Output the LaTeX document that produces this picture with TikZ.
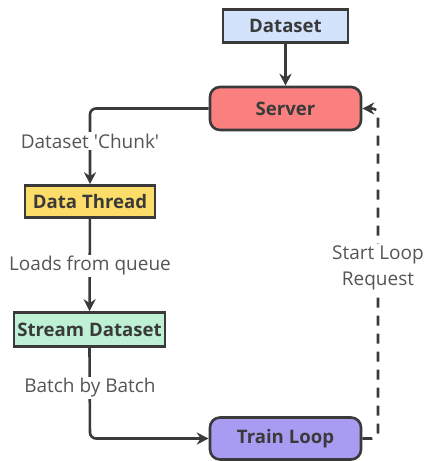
\documentclass[tikz,border=0pt]{standalone}
\usepackage{fontspec}
\setmainfont{Open Sans}[Ligatures=TeXOff]
\usetikzlibrary{arrows.meta}
\definecolor{ln}{HTML}{3A3A3A}
\definecolor{txt}{HTML}{555555}
\definecolor{cblue}{HTML}{D3E3FC}
\definecolor{cred}{HTML}{FA8080}
\definecolor{cyel}{HTML}{FDDD6A}
\definecolor{cgreen}{HTML}{BDF0D4}
\definecolor{cpurp}{HTML}{A89CF2}
\tikzset{
  box/.style={draw=ln, line width=2.6pt, font=\bfseries\fontsize{18.6}{22}\selectfont, text=ln, inner sep=0pt},
  rbox/.style={box, rounded corners=10pt},
  conn/.style={draw=ln, line width=2.6pt, -{Stealth[length=12pt,width=12pt]}},
  lbl/.style={font=\fontsize{19}{26}\selectfont, text=txt, fill=white, inner sep=1.5pt, align=center}
}
\begin{document}
\begin{tikzpicture}[x=1pt,y=-1pt]
\useasboundingbox (0,0) rectangle (424,461);
\node[box, fill=cblue, minimum width=125pt, minimum height=33pt] (ds) at (285.5,26) {Dataset};
\node[rbox, fill=cred, minimum width=151pt, minimum height=43pt] (srv) at (285.5,108.5) {Server};
\node[box, fill=cyel, minimum width=130pt, minimum height=32pt] (dt) at (90,201.5) {Data Thread};
\node[box, fill=cgreen, minimum width=151pt, minimum height=34pt] (sd) at (89.5,329.5) {Stream Dataset};
\node[rbox, fill=cpurp, minimum width=151pt, minimum height=42pt] (tl) at (285.5,438.5) {Train Loop};
\coordinate (c1) at (90,108.5);
\coordinate (c2) at (90,438.5);
\coordinate (c3) at (378,438.5);
\coordinate (c4) at (378,108.5);
\draw[conn] (ds) -- (srv);
\draw[conn, rounded corners=6pt] (srv.west) -- (c1) -- (dt.north);
\draw[conn] (dt) -- (sd);
\draw[conn, rounded corners=6pt] (sd.south) -- (c2) -- (tl.west);
\draw[conn, dash pattern=on 10pt off 8pt, rounded corners=6pt] (tl.east) -- (c3) -- (c4) -- (srv.east);
\node[lbl] (l1) at (90,141) {Dataset 'Chunk'};
\node[lbl] (l2) at (90,266) {Loads from queue};
\node[lbl] (l3) at (90,388) {Batch by Batch};
\node[lbl] (l4) at (378,268) {Start Loop\\Request};
\end{tikzpicture}
\end{document}
